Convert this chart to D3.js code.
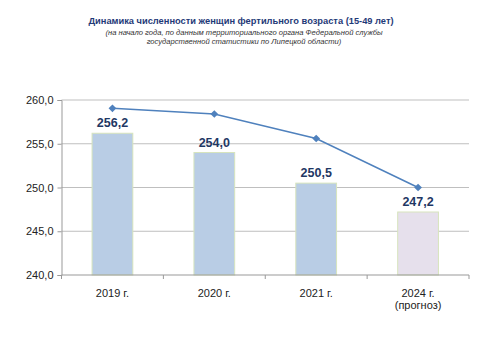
<!DOCTYPE html>
<html><head><meta charset="utf-8">
<script src="https://cdn.jsdelivr.net/npm/d3@7"></script>
<style>body{margin:0;background:#fff}svg{display:block}</style>
</head><body>
<svg id="c" width="480" height="360"></svg>
<script>
const categories = ["2019 г.", "2020 г.", "2021 г.", "2024 г.|(прогноз)"];
const barValues = [256.2, 254.0, 250.5, 247.2];
const lineValues = [259.05, 258.4, 255.6, 250.0];
const yTicks = [240, 245, 250, 255, 260];
const titleText = "Динамика численности женщин фертильного возраста (15-49 лет)";
const subtitleLines = ["(на начало года, по данным территориального  органа Федеральной  службы", "государственной  статистики по Липецкой области)"];

const svg = d3.select("#c");
const m = {l: 61.5, r: 469, t: 100, b: 275};
const x = d3.scaleBand().domain(categories).range([m.l, m.r]).paddingInner(0.6).paddingOuter(0.3);
const xb = d3.scaleBand().domain(categories).range([m.l, m.r]);
const y = d3.scaleLinear().domain([240, 260]).range([m.b, m.t]);
const fmt = v => v.toFixed(1).replace(".", ",");

svg.append("text").attr("x", 241).attr("y", 23.5).attr("text-anchor", "middle")
  .attr("font-family", "Liberation Sans, Arial, sans-serif").attr("font-weight", "bold")
  .attr("font-size", 9.3).attr("fill", "#1F3A78").text(titleText);
subtitleLines.forEach((t, i) => {
  svg.append("text").attr("x", 244).attr("y", 34.5 + i * 9.5).attr("text-anchor", "middle")
    .attr("font-family", "Liberation Sans, Arial, sans-serif").attr("font-style", "italic")
    .attr("font-size", 7.6).attr("fill", "#333").text(t);
});

// gridlines
const yAxis = d3.axisLeft(y).tickValues(yTicks).tickSize(4).tickFormat(fmt);
svg.append("g").selectAll("line").data(yTicks.slice(1)).join("line")
  .attr("x1", m.l).attr("x2", m.r).attr("y1", d => y(d)).attr("y2", d => y(d))
  .attr("stroke", "#bfbfbf").attr("stroke-width", 1);

const gy = svg.append("g").attr("transform", `translate(${m.l},0)`).call(yAxis);
gy.selectAll("path,line").attr("stroke", "#999");
gy.selectAll("text").attr("font-family", "Liberation Sans, Arial, sans-serif").attr("font-size", 11).attr("fill", "#222").attr("dx", -1);

// bars
svg.append("g").selectAll("rect").data(barValues).join("rect")
  .attr("x", (d, i) => x(categories[i])).attr("width", x.bandwidth())
  .attr("y", d => y(d)).attr("height", d => y(240) - y(d))
  .attr("fill", (d, i) => i === 3 ? "#E6E0EC" : "#B9CDE5")
  .attr("stroke", "#D7E4BD").attr("stroke-width", 1);

// x axis
const gx = svg.append("g").attr("transform", `translate(0,${m.b})`);
gx.append("line").attr("x1", m.l).attr("x2", m.r).attr("stroke", "#999");
const tickPos = categories.map(c => xb(c)).concat([m.r]);
gx.selectAll("line.t").data(tickPos).join("line").attr("class", "t")
  .attr("x1", d => d).attr("x2", d => d).attr("y1", 0).attr("y2", 4).attr("stroke", "#999");
categories.forEach(c => {
  const parts = c.split("|");
  parts.forEach((p, j) => {
    gx.append("text").attr("x", xb(c) + xb.bandwidth() / 2).attr("y", 22 + j * 11.5)
      .attr("text-anchor", "middle").attr("font-family", "Liberation Sans, Arial, sans-serif")
      .attr("font-size", 11).attr("fill", "#222").text(p);
  });
});

// line
const cx = c => xb(c) + xb.bandwidth() / 2;
svg.append("path").datum(lineValues)
  .attr("d", d3.line().x((d, i) => cx(categories[i])).y(d => y(d)))
  .attr("fill", "none").attr("stroke", "#4F81BD").attr("stroke-width", 1.5);
svg.append("g").selectAll("path").data(lineValues).join("path")
  .attr("d", d3.symbol().type(d3.symbolDiamond2).size(38))
  .attr("transform", (d, i) => `translate(${cx(categories[i])},${y(d)})`)
  .attr("fill", "#4F81BD");

// labels
svg.append("g").selectAll("text").data(barValues).join("text")
  .attr("x", (d, i) => cx(categories[i])).attr("y", d => y(d) - 6)
  .attr("text-anchor", "middle").attr("font-family", "Liberation Sans, Arial, sans-serif")
  .attr("font-weight", "bold").attr("font-size", 12.5).attr("fill", "#1F3864").text(fmt);
</script>
</body></html>
